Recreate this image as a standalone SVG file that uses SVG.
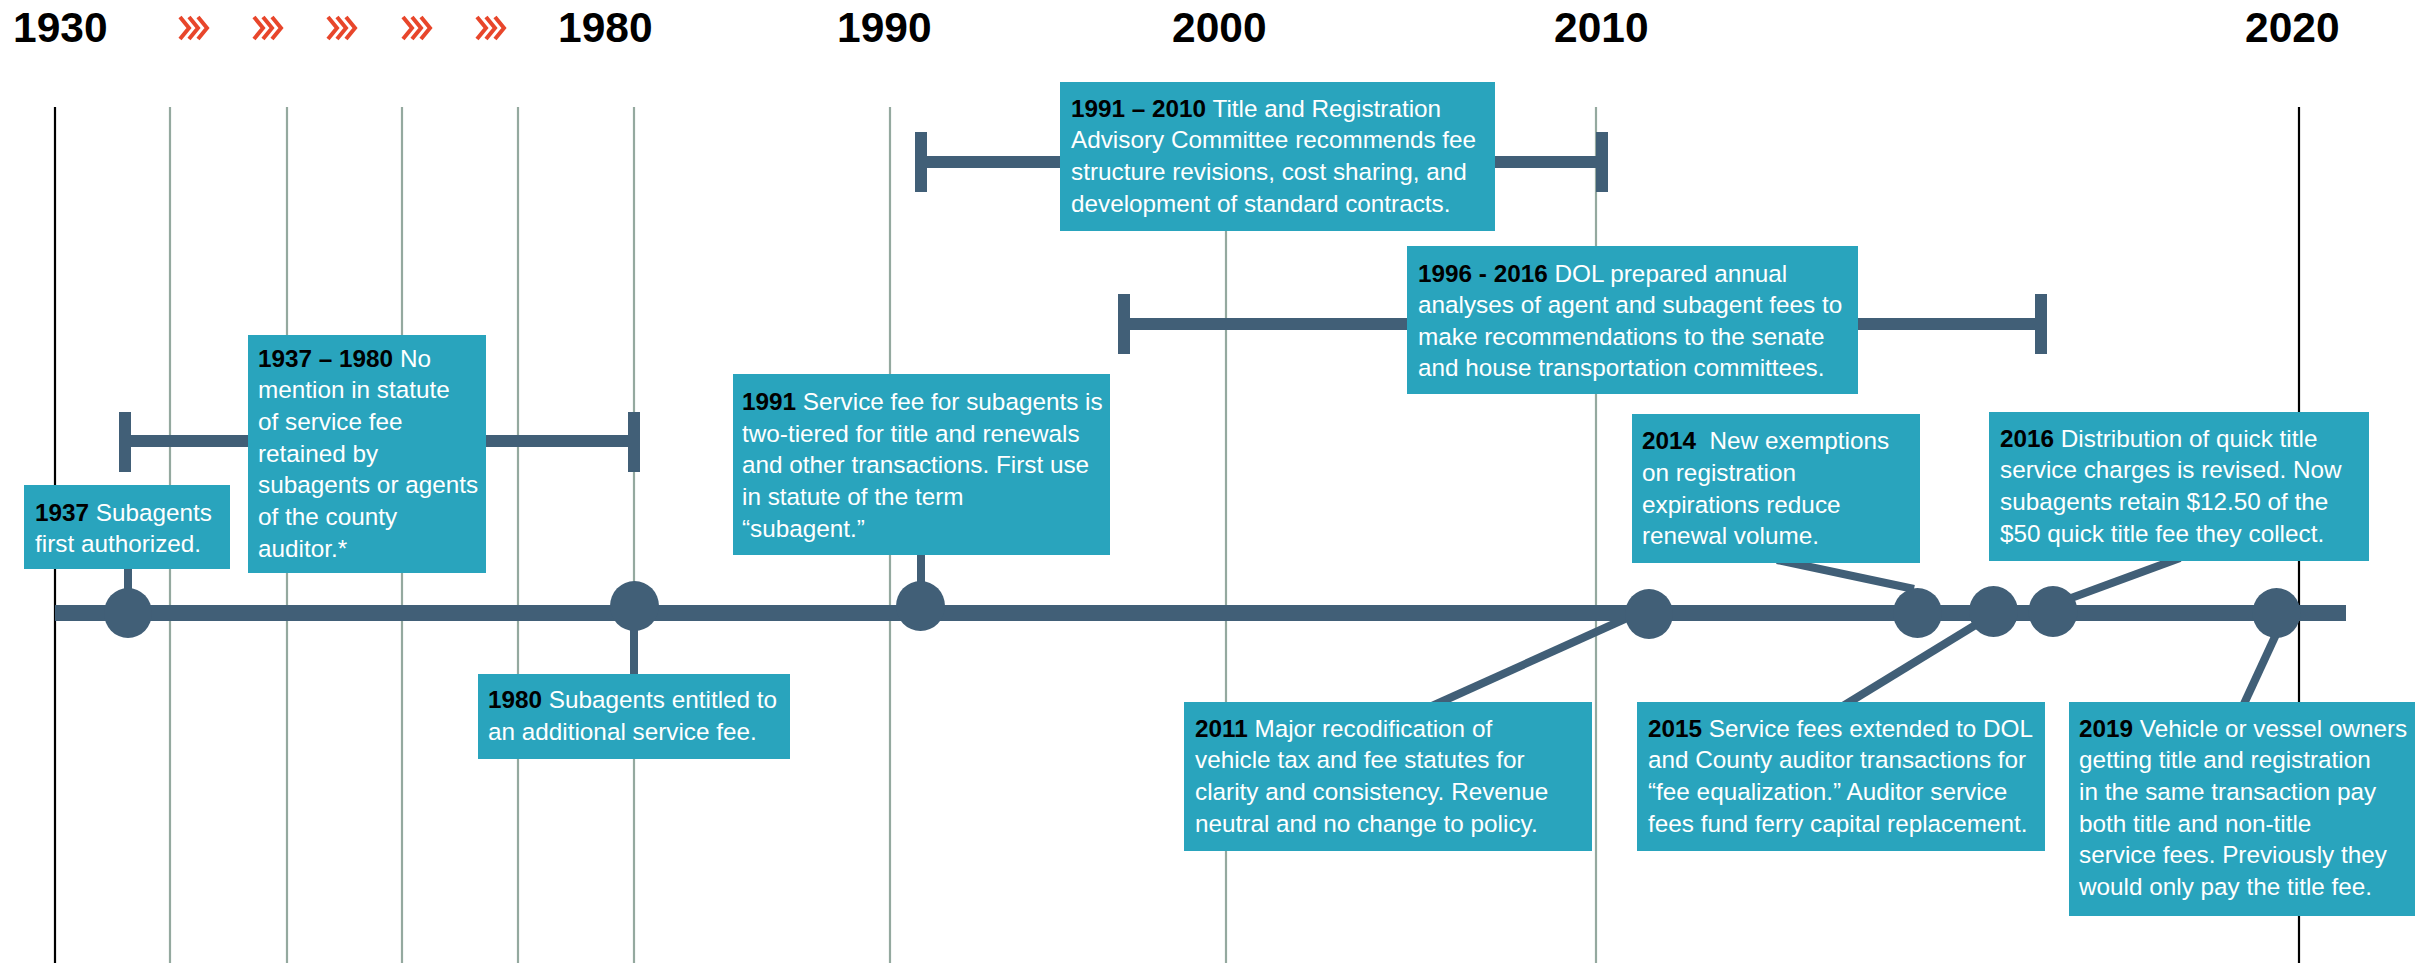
<svg xmlns="http://www.w3.org/2000/svg" width="2430" height="963" viewBox="0 0 2430 963">
<style>
.grid{stroke:#94A99F;stroke-width:2.2}
.gridk{stroke:#000;stroke-width:2.2}
.yr{font-family:"Liberation Sans",Arial,sans-serif;font-weight:bold;font-size:42.5px;fill:#000}
.chev{fill:none;stroke:#E8462B;stroke-width:4}
.bar{fill:#415F77}
.con{stroke:#415F77;stroke-width:8;fill:none}
.dot{fill:#415F77}
.box{fill:#29A4BD}
.t{font-family:"Liberation Sans",Arial,sans-serif;font-size:24.3px;fill:#fff}
.b{font-weight:bold;fill:#000}
</style>
<defs>
<g id="chv"><polyline class="chev" points="0,17 9,28 0,39"/><polyline class="chev" points="9,17 18,28 9,39"/><polyline class="chev" points="18,17 27,28 18,39"/></g>
</defs>
<rect width="2430" height="963" fill="#fff"/>
<g id="gridlines">
<line class="gridk" x1="55" y1="107" x2="55" y2="963"/>
<line class="grid" x1="170" y1="107" x2="170" y2="963"/>
<line class="grid" x1="287" y1="107" x2="287" y2="963"/>
<line class="grid" x1="402" y1="107" x2="402" y2="963"/>
<line class="grid" x1="518" y1="107" x2="518" y2="963"/>
<line class="grid" x1="634" y1="107" x2="634" y2="963"/>
<line class="grid" x1="890" y1="107" x2="890" y2="963"/>
<line class="grid" x1="1226" y1="107" x2="1226" y2="963"/>
<line class="grid" x1="1596" y1="107" x2="1596" y2="963"/>
<line class="gridk" x1="2299" y1="107" x2="2299" y2="963"/>
</g>
<g id="year-labels">
<text class="yr" x="13" y="42">1930</text>
<text class="yr" x="558" y="42">1980</text>
<text class="yr" x="837" y="42">1990</text>
<text class="yr" x="1172" y="42">2000</text>
<text class="yr" x="1554" y="42">2010</text>
<text class="yr" x="2245" y="42">2020</text>
</g>
<g id="chevrons">
<use href="#chv" x="180"/>
<use href="#chv" x="254"/>
<use href="#chv" x="328"/>
<use href="#chv" x="403"/>
<use href="#chv" x="477"/>
</g>
<g id="connectors">
<rect class="bar" x="119" y="412" width="12" height="60"/>
<rect class="bar" x="125" y="435" width="509" height="12"/>
<rect class="bar" x="628" y="412" width="12" height="60"/>
<rect class="bar" x="915" y="132" width="12" height="60"/>
<rect class="bar" x="921" y="156" width="681" height="12"/>
<rect class="bar" x="1596" y="132" width="12" height="60"/>
<rect class="bar" x="1118" y="294" width="12" height="60"/>
<rect class="bar" x="1124" y="318" width="917" height="12"/>
<rect class="bar" x="2035" y="294" width="12" height="60"/>
<line class="con" x1="128" y1="565" x2="128" y2="613"/>
<line class="con" x1="634" y1="606" x2="634" y2="678"/>
<line class="con" x1="921" y1="550" x2="921" y2="606"/>
<line class="con" x1="1432" y1="706" x2="1627" y2="618"/>
<line class="con" x1="1777" y1="560" x2="1914" y2="589"/>
<line class="con" x1="1843" y1="706" x2="1982" y2="621"/>
<line class="con" x1="2180" y1="558" x2="2063" y2="601"/>
<line class="con" x1="2243" y1="706" x2="2279" y2="628"/>
</g>
<g id="timeline"><rect class="bar" x="55" y="605" width="2291" height="16"/></g>
<g id="n1937">
<ellipse class="dot" cx="128" cy="613" rx="24" ry="25"/>
<rect class="box" x="24" y="485" width="206" height="84"/>
<text class="t" x="35" y="521"><tspan class="b">1937</tspan> Subagents</text>
<text class="t" x="35" y="552">first authorized.</text>
</g>
<g id="n1937-1980">
<rect class="box" x="248" y="335" width="238" height="238"/>
<text class="t" x="258" y="367"><tspan class="b">1937 – 1980</tspan> No</text>
<text class="t" x="258" y="398">mention in statute</text>
<text class="t" x="258" y="430">of service fee</text>
<text class="t" x="258" y="462">retained by</text>
<text class="t" x="258" y="493">subagents or agents</text>
<text class="t" x="258" y="525">of the county</text>
<text class="t" x="258" y="557">auditor.*</text>
</g>
<g id="n1980">
<ellipse class="dot" cx="634.5" cy="606" rx="24.5" ry="25"/>
<rect class="box" x="478" y="674" width="312" height="85"/>
<text class="t" x="488" y="708"><tspan class="b">1980</tspan> Subagents entitled to</text>
<text class="t" x="488" y="740">an additional service fee.</text>
</g>
<g id="n1991">
<ellipse class="dot" cx="920.5" cy="606" rx="24.5" ry="25"/>
<rect class="box" x="733" y="374" width="377" height="181"/>
<text class="t" x="742" y="410"><tspan class="b">1991</tspan> Service fee for subagents is</text>
<text class="t" x="742" y="442">two-tiered for title and renewals</text>
<text class="t" x="742" y="473">and other transactions. First use</text>
<text class="t" x="742" y="505">in statute of the term</text>
<text class="t" x="742" y="537">“subagent.”</text>
</g>
<g id="n1991-2010">
<rect class="box" x="1060" y="82" width="435" height="149"/>
<text class="t" x="1071" y="117"><tspan class="b">1991 – 2010</tspan> Title and Registration</text>
<text class="t" x="1071" y="148">Advisory Committee recommends fee</text>
<text class="t" x="1071" y="180">structure revisions, cost sharing, and</text>
<text class="t" x="1071" y="212">development of standard contracts.</text>
</g>
<g id="n1996-2016">
<rect class="box" x="1407" y="246" width="451" height="148"/>
<text class="t" x="1418" y="282"><tspan class="b">1996 - 2016</tspan> DOL prepared annual</text>
<text class="t" x="1418" y="313">analyses of agent and subagent fees to</text>
<text class="t" x="1418" y="345">make recommendations to the senate</text>
<text class="t" x="1418" y="376">and house transportation committees.</text>
</g>
<g id="n2011">
<ellipse class="dot" cx="1649" cy="614" rx="24" ry="25"/>
<rect class="box" x="1184" y="702" width="408" height="149"/>
<text class="t" x="1195" y="737"><tspan class="b">2011</tspan> Major recodification of</text>
<text class="t" x="1195" y="768">vehicle tax and fee statutes for</text>
<text class="t" x="1195" y="800">clarity and consistency. Revenue</text>
<text class="t" x="1195" y="832">neutral and no change to policy.</text>
</g>
<g id="n2014">
<ellipse class="dot" cx="1917.5" cy="613" rx="24.5" ry="25"/>
<rect class="box" x="1632" y="414" width="288" height="149"/>
<text class="t" x="1642" y="449"><tspan class="b">2014</tspan>&#160; New exemptions</text>
<text class="t" x="1642" y="481">on registration</text>
<text class="t" x="1642" y="513">expirations reduce</text>
<text class="t" x="1642" y="544">renewal volume.</text>
</g>
<g id="n2015">
<ellipse class="dot" cx="1993.5" cy="611.5" rx="24.5" ry="25.5"/>
<rect class="box" x="1637" y="702" width="408" height="149"/>
<text class="t" x="1648" y="737"><tspan class="b">2015</tspan> Service fees extended to DOL</text>
<text class="t" x="1648" y="768">and County auditor transactions for</text>
<text class="t" x="1648" y="800">“fee equalization.” Auditor service</text>
<text class="t" x="1648" y="832">fees fund ferry capital replacement.</text>
</g>
<g id="n2016">
<ellipse class="dot" cx="2053" cy="611.5" rx="24.5" ry="25.5"/>
<rect class="box" x="1989" y="412" width="380" height="149"/>
<text class="t" x="2000" y="447"><tspan class="b">2016</tspan> Distribution of quick title</text>
<text class="t" x="2000" y="478">service charges is revised. Now</text>
<text class="t" x="2000" y="510">subagents retain $12.50 of the</text>
<text class="t" x="2000" y="542">$50 quick title fee they collect.</text>
</g>
<g id="n2019">
<ellipse class="dot" cx="2276.5" cy="613" rx="24" ry="25"/>
<rect class="box" x="2069" y="702" width="346" height="214"/>
<text class="t" x="2079" y="737"><tspan class="b">2019</tspan> Vehicle or vessel owners</text>
<text class="t" x="2079" y="768">getting title and registration</text>
<text class="t" x="2079" y="800">in the same transaction pay</text>
<text class="t" x="2079" y="832">both title and non-title</text>
<text class="t" x="2079" y="863">service fees. Previously they</text>
<text class="t" x="2079" y="895">would only pay the title fee.</text>
</g>
</svg>
